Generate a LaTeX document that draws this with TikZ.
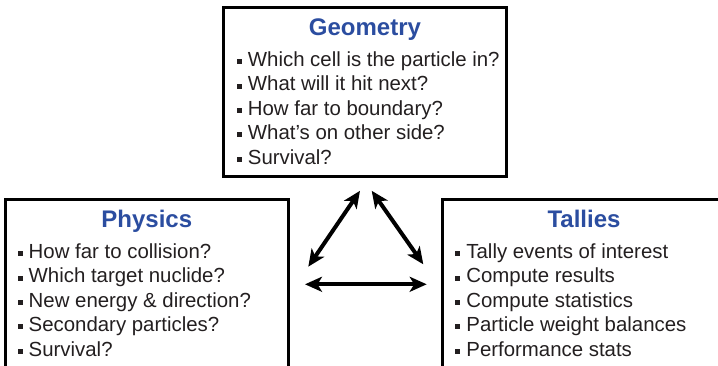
\documentclass[tikz,border=0pt]{standalone}
\usepackage{fontspec}
\setmainfont{Liberation Sans}
\usepackage{xcolor}
\usepackage{tikz}
\usetikzlibrary{arrows.meta, positioning, calc}
\definecolor{titleblue}{RGB}{43,77,160}
\definecolor{itemgray}{RGB}{35,31,32}
\newcommand{\sqb}{\rule[0.11em]{0.25em}{0.25em}\hspace{0.3em}}
\tikzstyle{panel} = [rectangle, draw=black, line width=3pt, minimum width=283pt, inner sep=0pt, outer sep=0pt]
\tikzstyle{heading} = [font=\fontsize{24}{28}\selectfont\bfseries, text=titleblue, inner sep=0pt]
\tikzstyle{items} = [align=left, font=\fontsize{20.4}{24.4}\selectfont, text=itemgray, inner sep=0pt]
\tikzstyle{link} = [line width=4pt, {Stealth[length=17pt,width=15pt,inset=4.5pt]}-{Stealth[length=17pt,width=15pt,inset=4.5pt]}]

\begin{document}
\begin{tikzpicture}[x=1pt,y=1pt]
\useasboundingbox (0,0) rectangle (718,-366);
\clip (0,0) rectangle (718,-366);

% the three panels
\node[panel, minimum height=168.3pt, anchor=north west] (geo) at (223.5,-8) {};
\node[panel, minimum height=200pt, anchor=north west] (phys) at (5.3,-200) {};
\node[panel, minimum height=200pt, anchor=north west] (tally) at (442.5,-200) {};

\node[heading, anchor=base] (geotitle) at ([yshift=-28pt]geo.north) {Geometry};
\node[heading, anchor=base] (phystitle) at ([yshift=-27.7pt]phys.north) {Physics};
\node[heading, anchor=base] (tallytitle) at ([yshift=-27.7pt]tally.north) {Tallies};

\node[items, anchor=north west] (geolist) at ([xshift=13pt,yshift=-43.5pt]geo.north west) {
\sqb Which cell is the particle in?\\
\sqb What will it hit next?\\
\sqb How far to boundary?\\
\sqb What’s on other side?\\
\sqb Survival?};

\node[items, anchor=north west] (physlist) at ([xshift=12pt,yshift=-43.5pt]phys.north west) {
\sqb How far to collision?\\
\sqb Which target nuclide?\\
\sqb New energy \& direction?\\
\sqb Secondary particles?\\
\sqb Survival?};

\node[items, anchor=north west] (tallylist) at ([xshift=12.5pt,yshift=-43.5pt]tally.north west) {
\sqb Tally events of interest\\
\sqb Compute results\\
\sqb Compute statistics\\
\sqb Particle weight balances\\
\sqb Performance stats};

% arrows between the panels
\coordinate (geoleft) at ([xshift=-5pt,yshift=-14.5pt]geo.south);
\coordinate (georight) at ([xshift=6.7pt,yshift=-14.5pt]geo.south);
\coordinate (physup) at (308.3,-266.7);
\coordinate (physlow) at (305,-284.3);
\coordinate (tallyup) at (423.3,-264.3);
\coordinate (tallylow) at (426.7,-284.3);

\draw[link] (physup) -- (geoleft);
\draw[link] (georight) -- (tallyup);
\draw[link] (physlow) -- (tallylow);
\end{tikzpicture}
\end{document}
